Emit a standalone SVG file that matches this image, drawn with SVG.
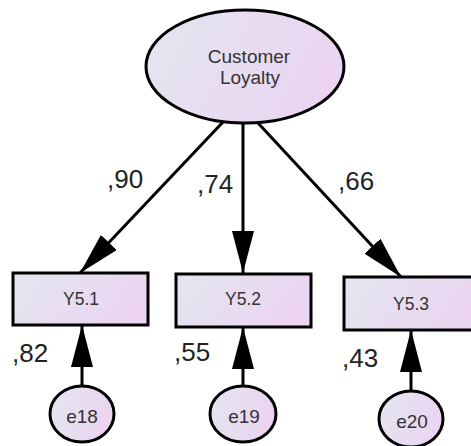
<svg xmlns="http://www.w3.org/2000/svg" width="471" height="446" viewBox="0 0 471 446">
<style>
.node{stroke:#000;stroke-width:3;fill:url(#g)}
.lbl{font-family:"Liberation Sans",Arial,sans-serif;fill:#333;text-anchor:middle}
.coef{font-family:"Liberation Sans",Arial,sans-serif;fill:#222;font-size:26px}
.edge{stroke:#000;stroke-width:3;fill:none;marker-end:url(#ah)}
</style>
<defs>
<linearGradient id="g" x1="0" y1="0" x2="1" y2="0.3">
<stop offset="0" stop-color="#e2e7ef"/>
<stop offset="1" stop-color="#ecd4f2"/>
</linearGradient>
<marker id="ah" viewBox="0 0 42 22" refX="42" refY="11" markerWidth="42" markerHeight="22" markerUnits="userSpaceOnUse" orient="auto">
<path d="M0,0 L42,11 L0,22 z" fill="#000"/>
</marker>
</defs>
<g id="connectors">
<line class="edge" x1="223" y1="122" x2="80" y2="273"/>
<line class="edge" x1="243" y1="123" x2="243" y2="273"/>
<line class="edge" x1="258" y1="123" x2="401" y2="277"/>
<line class="edge" x1="82" y1="386" x2="82" y2="325"/>
<line class="edge" x1="243" y1="386" x2="243" y2="327"/>
<line class="edge" x1="411" y1="391" x2="411" y2="330"/>
</g>
<g id="CustomerLoyalty">
<ellipse class="node" cx="245" cy="66.5" rx="99" ry="56.5"/>
<text class="lbl" x="249" y="63" font-size="19">Customer</text>
<text class="lbl" x="250" y="84" font-size="19">Loyalty</text>
</g>
<g id="Y5.1">
<rect class="node" x="13" y="273" width="135" height="52"/>
<text class="lbl" x="81" y="305" font-size="17.5">Y5.1</text>
</g>
<g id="Y5.2">
<rect class="node" x="176" y="274" width="135" height="53"/>
<text class="lbl" x="243" y="305" font-size="17.5">Y5.2</text>
</g>
<g id="Y5.3">
<rect class="node" x="344" y="277" width="135" height="53"/>
<text class="lbl" x="411" y="310" font-size="17.5">Y5.3</text>
</g>
<g id="e18">
<ellipse class="node" cx="82" cy="414" rx="32" ry="28"/>
<text class="lbl" x="82" y="423" font-size="19">e18</text>
</g>
<g id="e19">
<ellipse class="node" cx="243" cy="414" rx="33" ry="28"/>
<text class="lbl" x="244" y="423" font-size="19">e19</text>
</g>
<g id="e20">
<ellipse class="node" cx="411" cy="419" rx="32" ry="28"/>
<text class="lbl" x="412" y="428" font-size="19">e20</text>
</g>
<g id="coefficients">
<text class="coef" x="107" y="188">,90</text>
<text class="coef" x="197" y="193">,74</text>
<text class="coef" x="338" y="190">,66</text>
<text class="coef" x="12" y="362">,82</text>
<text class="coef" x="174" y="361">,55</text>
<text class="coef" x="342" y="367">,43</text>
</g>
</svg>
